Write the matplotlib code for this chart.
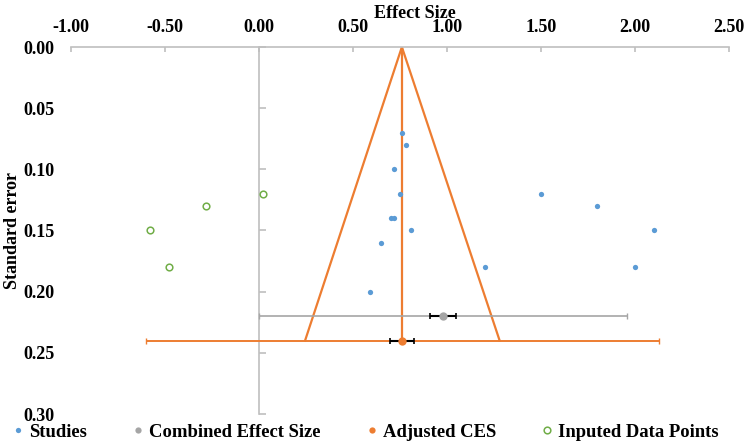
import matplotlib
matplotlib.use("Agg")
import matplotlib.pyplot as plt
from matplotlib.lines import Line2D

plt.rcParams['font.family'] = ['Liberation Serif', 'DejaVu Serif']
plt.rcParams['font.weight'] = 'bold'
plt.rcParams['axes.labelweight'] = 'bold'
plt.rcParams['font.size'] = 13

# studies (effect size, standard error)
study_es = [0.76, 0.78, 0.72, 0.75, 0.70, 0.72, 0.81, 0.65, 0.59, 1.50, 1.80, 2.10, 1.20, 2.00]
study_se = [0.07, 0.08, 0.10, 0.12, 0.14, 0.14, 0.15, 0.16, 0.20, 0.12, 0.13, 0.15, 0.18, 0.18]

# imputed points (trim and fill)
imp_es = [-0.58, -0.28, 0.02, -0.48]
imp_se = [0.15, 0.13, 0.12, 0.18]

# combined effect size
ces = 0.98
ces_se = 0.22
ces_ci = [0.0, 1.96]
ces_err = 0.07

# adjusted combined effect size
adj = 0.76
adj_se = 0.24
adj_ci = [-0.60, 2.125]
adj_err = 0.062
funnel_lo = 0.245
funnel_hi = 1.28

xticks = [-1.0, -0.5, 0.0, 0.5, 1.0, 1.5, 2.0, 2.5]
yticks = [0.0, 0.05, 0.10, 0.15, 0.20, 0.25, 0.30]

blue = '#5B9BD5'
orange = '#ED7D31'
gray = '#A5A5A5'
green = '#70AD47'
axcol = '#BFBFBF'

fig = plt.figure(figsize=(7.5, 4.44), dpi=100)
ax = fig.add_axes([71 / 750, 1 - 414 / 444, 658 / 750, 367 / 444])
ax.set_xlim(-1, 2.5)
ax.set_ylim(0.30, 0)

# funnel
ax.plot([funnel_lo, adj, funnel_hi], [adj_se, 0, adj_se], color=orange, lw=1.6, zorder=2)
ax.plot([adj, adj], [0, adj_se], color=orange, lw=1.6, zorder=2)

# combined effect size with CI
ax.errorbar([ces], [ces_se], xerr=[[ces - ces_ci[0]], [ces_ci[1] - ces]], fmt='none',
            ecolor=gray, elinewidth=1.2, capsize=2, capthick=1, zorder=3)
ax.errorbar([ces], [ces_se], xerr=ces_err, fmt='none', ecolor='black',
            elinewidth=1.5, capsize=2.5, capthick=1.2, zorder=4)
ax.plot([ces], [ces_se], 'o', color=gray, ms=6, mec='none', zorder=5)

# adjusted effect size with CI
ax.errorbar([adj], [adj_se], xerr=[[adj - adj_ci[0]], [adj_ci[1] - adj]], fmt='none',
            ecolor=orange, elinewidth=1.4, capsize=2, capthick=1, zorder=3)
ax.errorbar([adj], [adj_se], xerr=adj_err, fmt='none', ecolor='black',
            elinewidth=1.5, capsize=2.5, capthick=1.2, zorder=4)
ax.plot([adj], [adj_se], 'o', color=orange, ms=6, mec='none', zorder=5)

# points
ax.plot(study_es, study_se, 'o', color=blue, ms=3.8, mec='none', ls='none', zorder=6)
ax.plot(imp_es, imp_se, 'o', mfc='white', mec=green, mew=1.1, ms=4.8, ls='none', zorder=6)

# axes styling
for s in ['left', 'right', 'bottom']:
    ax.spines[s].set_visible(False)
ax.spines['top'].set_color(axcol)
ax.spines['top'].set_linewidth(1.2)
ax.xaxis.tick_top()
ax.set_xticks(xticks)
ax.set_xticklabels([f"{v:.2f}" for v in xticks])
ax.tick_params(axis='x', direction='in', length=3.5, color=axcol, width=1.2, pad=8)
ax.set_yticks(yticks)
ax.set_yticklabels([f"{v:.2f}" for v in yticks])
ax.tick_params(axis='y', length=0, pad=12)
ax.set_ylabel('Standard error')
ax.yaxis.set_label_coords((21 - 71) / 658, 0.5)

# vertical axis line at x = 0
sec = ax.secondary_yaxis(1 / 3.5)
sec.set_yticks(yticks)
sec.tick_params(direction='in', length=5, labelleft=False, color=axcol, width=1.2)
sec.spines['left'].set_color(axcol)
sec.spines['left'].set_linewidth(1.2)

fig.text(414.5 / 750, 1 - 13 / 444, 'Effect Size', ha='center', va='center')

handles = [
    Line2D([], [], marker='o', color=blue, mec='none', ms=3.8, ls='none'),
    Line2D([], [], marker='o', color=gray, mec='none', ms=4.5, ls='none'),
    Line2D([], [], marker='o', color=orange, mec='none', ms=4.5, ls='none'),
    Line2D([], [], marker='o', mfc='white', mec=green, mew=1.1, ms=4.8, ls='none'),
]
labels = ['Studies', 'Combined Effect Size', 'Adjusted CES', 'Inputed Data Points']
fig.legend(handles, labels, loc='center', bbox_to_anchor=(366 / 750, 12 / 444), ncol=4,
           frameon=False, handlelength=0.5, handletextpad=0.35, columnspacing=2.5,
           borderpad=0, borderaxespad=0, prop={'size': 13.4, 'weight': 'bold'})

fig.savefig('out.png', dpi=100)
